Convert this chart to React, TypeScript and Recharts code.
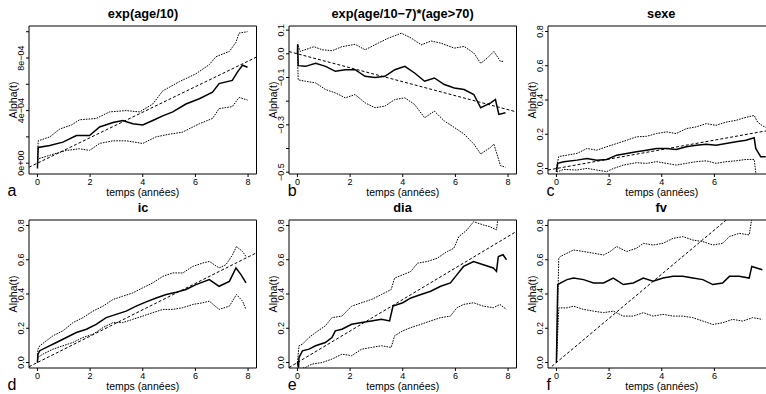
import { Line, LineChart, ReferenceArea, XAxis, YAxis } from "recharts";

type Pt = [number, number];

// temps (années) vs cumulative coefficient
const TITLES = ["exp(age/10)", "exp(age/10−7)*(age>70)", "sexe", "ic", "dia", "fv"];
const LETTERS = ["a", "b", "c", "d", "e", "f"];

const X_TICKS = [0, 2, 4, 6, 8];
// the right column is cut by the picture's edge before the "8" tick
const X_TICKS_CUT = [0, 2, 4, 6];

const aHigh: Pt[] = [[0, 0], [0.03, 0.00017], [0.47, 0.0002], [0.85, 0.00026], [1.29, 0.00029], [1.6, 0.00033], [2.23, 0.00034], [2.74, 0.00039], [3.37, 0.0004], [3.88, 0.00039], [4.38, 0.00045], [4.76, 0.00055], [5.39, 0.00062], [6.02, 0.00068], [6.53, 0.00075], [6.78, 0.00081], [7.29, 0.00085], [7.54, 0.00092], [7.66, 0.00099], [7.98, 0.001]];
const aEst: Pt[] = [[0, -0.00004], [0.03, 0.00012], [0.47, 0.000135], [0.97, 0.00016], [1.48, 0.00021], [1.98, 0.00021], [2.36, 0.000275], [2.87, 0.00031], [3.24, 0.000325], [3.62, 0.0003], [4.0, 0.00029], [4.38, 0.000325], [4.76, 0.00036], [5.14, 0.00039], [5.64, 0.00045], [6.15, 0.00049], [6.65, 0.00054], [6.9, 0.000605], [7.4, 0.00063], [7.6, 0.000695], [7.79, 0.000745], [7.98, 0.00073]];
const aLow: Pt[] = [[0, 0], [0.03, 0.000033], [0.47, 0.00006], [1.1, 0.000097], [1.6, 0.00011], [1.98, 0.000097], [2.36, 0.00015], [2.87, 0.00017], [3.37, 0.00017], [4.0, 0.00015], [4.5, 0.0002], [5.0, 0.00022], [5.5, 0.000235], [6.15, 0.0003], [6.65, 0.00034], [6.9, 0.000415], [7.4, 0.00043], [7.66, 0.0005], [7.98, 0.00048]];

const bHigh: Pt[] = [[0, 0], [0.01, 0.04], [0.1, 0.01], [0.63, 0.03], [0.94, 0.017], [1.32, 0.013], [1.69, 0.03], [2.19, 0.04], [2.57, 0.017], [3.07, 0.045], [3.45, 0.066], [3.95, 0.087], [4.33, 0.066], [4.7, 0.038], [5.08, 0.054], [5.45, 0.045], [5.96, 0.024], [6.33, 0.031], [6.7, 0.003], [6.96, -0.04], [7.21, -0.018], [7.46, 0.01], [7.71, -0.032], [7.84, -0.032]];
const bEst: Pt[] = [[0, 0], [0.01, 0.04], [0.03, -0.05], [0.31, -0.053], [0.69, -0.04], [1.07, -0.053], [1.44, -0.074], [1.82, -0.067], [2.19, -0.067], [2.57, -0.095], [2.95, -0.1], [3.32, -0.095], [3.7, -0.067], [4.08, -0.053], [4.45, -0.081], [4.83, -0.116], [5.2, -0.102], [5.58, -0.13], [5.96, -0.144], [6.33, -0.151], [6.7, -0.172], [6.96, -0.228], [7.34, -0.207], [7.52, -0.193], [7.65, -0.256], [7.9, -0.249]];
const bLow: Pt[] = [[0, 0], [0.03, -0.11], [0.31, -0.116], [0.69, -0.123], [1.07, -0.151], [1.44, -0.165], [1.82, -0.186], [2.19, -0.172], [2.57, -0.207], [2.95, -0.228], [3.32, -0.221], [3.7, -0.193], [4.08, -0.186], [4.45, -0.214], [4.83, -0.27], [5.2, -0.242], [5.58, -0.284], [5.96, -0.311], [6.33, -0.339], [6.7, -0.381], [6.96, -0.423], [7.34, -0.395], [7.46, -0.381], [7.71, -0.472], [7.9, -0.479]];

const cHigh: Pt[] = [[0, 0], [0.03, 0.03], [0.09, 0.07], [0.4, 0.078], [0.78, 0.088], [1.16, 0.117], [1.53, 0.107], [1.91, 0.127], [2.29, 0.146], [2.67, 0.165], [3.04, 0.185], [3.42, 0.188], [3.8, 0.204], [4.18, 0.214], [4.55, 0.204], [4.93, 0.233], [5.31, 0.243], [5.69, 0.262], [6.06, 0.252], [6.44, 0.271], [6.82, 0.281], [7.13, 0.296], [7.51, 0.31], [7.64, 0.271], [7.82, 0.25], [7.95, 0.24]];
const cEst: Pt[] = [[0, -0.02], [0.05, 0.03], [0.28, 0.04], [0.78, 0.049], [1.16, 0.059], [1.53, 0.049], [1.91, 0.053], [2.29, 0.078], [2.67, 0.088], [3.04, 0.098], [3.42, 0.107], [3.8, 0.117], [4.18, 0.117], [4.55, 0.111], [4.93, 0.127], [5.31, 0.136], [5.69, 0.142], [6.06, 0.136], [6.44, 0.146], [6.82, 0.156], [7.2, 0.165], [7.51, 0.18], [7.57, 0.117], [7.76, 0.068], [7.95, 0.068]];
const cLow: Pt[] = [[0, 0], [0.03, -0.02], [0.28, -0.005], [0.78, -0.009], [1.16, 0.001], [1.53, -0.009], [1.91, -0.018], [2.16, 0], [2.54, 0.02], [3.04, 0.034], [3.42, 0.03], [3.8, 0.04], [4.18, 0.03], [4.55, 0.02], [4.93, 0.03], [5.31, 0.04], [5.69, 0.045], [6.06, 0.03], [6.44, 0.04], [6.82, 0.045], [7.2, 0.053], [7.51, 0.053], [7.6, -0.06], [7.95, -0.1]];

const dHigh: Pt[] = [[0, 0.03], [0.02, 0.078], [0.09, 0.098], [0.34, 0.127], [0.59, 0.156], [0.97, 0.185], [1.35, 0.233], [1.73, 0.262], [2.11, 0.3], [2.49, 0.329], [2.87, 0.368], [3.24, 0.387], [3.62, 0.406], [4.0, 0.436], [4.38, 0.465], [4.76, 0.503], [5.14, 0.523], [5.52, 0.523], [5.9, 0.561], [6.28, 0.581], [6.53, 0.59], [6.9, 0.552], [7.16, 0.571], [7.41, 0.629], [7.56, 0.677], [7.79, 0.648], [7.92, 0.619]];
const dEst: Pt[] = [[0, 0], [0.02, 0.049], [0.09, 0.069], [0.34, 0.088], [0.72, 0.117], [1.1, 0.146], [1.48, 0.175], [1.86, 0.194], [2.23, 0.223], [2.61, 0.262], [2.99, 0.281], [3.37, 0.3], [3.75, 0.329], [4.13, 0.354], [4.51, 0.377], [4.89, 0.397], [5.27, 0.41], [5.64, 0.426], [6.02, 0.455], [6.53, 0.484], [6.9, 0.445], [7.29, 0.474], [7.54, 0.552], [7.73, 0.513], [7.92, 0.465]];
const dLow: Pt[] = [[0, 0], [0.02, 0.03], [0.21, 0.049], [0.59, 0.078], [0.97, 0.098], [1.35, 0.117], [1.73, 0.146], [2.11, 0.165], [2.49, 0.204], [2.87, 0.233], [3.24, 0.233], [3.62, 0.252], [4.0, 0.271], [4.38, 0.291], [4.76, 0.31], [5.14, 0.31], [5.52, 0.32], [5.9, 0.339], [6.28, 0.349], [6.53, 0.358], [6.9, 0.31], [7.29, 0.329], [7.56, 0.397], [7.79, 0.358], [7.92, 0.31]];

const eHigh: Pt[] = [[0, 0], [0.06, 0.098], [0.19, 0.107], [0.44, 0.146], [0.69, 0.175], [1.06, 0.214], [1.31, 0.262], [1.69, 0.271], [2.06, 0.329], [2.44, 0.349], [2.81, 0.368], [3.19, 0.397], [3.56, 0.426], [3.69, 0.493], [4.0, 0.512], [4.31, 0.532], [4.56, 0.58], [4.94, 0.59], [5.31, 0.609], [5.69, 0.648], [5.94, 0.667], [6.13, 0.735], [6.44, 0.774], [6.69, 0.822], [7.06, 0.803], [7.31, 0.793], [7.56, 0.774], [7.63, 0.86], [7.9, 0.86]];
const eEst: Pt[] = [[0, 0], [0.04, -0.03], [0.06, 0.03], [0.19, 0.068], [0.44, 0.078], [0.69, 0.098], [1.06, 0.117], [1.31, 0.146], [1.44, 0.185], [1.69, 0.194], [2.06, 0.223], [2.44, 0.233], [2.81, 0.243], [3.19, 0.252], [3.5, 0.243], [3.63, 0.329], [4.0, 0.349], [4.31, 0.377], [4.69, 0.397], [5.06, 0.416], [5.44, 0.445], [5.81, 0.465], [6.06, 0.513], [6.31, 0.561], [6.69, 0.59], [7.06, 0.571], [7.44, 0.552], [7.56, 0.532], [7.63, 0.619], [7.81, 0.629], [7.94, 0.6]];
const eLow: Pt[] = [[0, 0], [0.06, -0.04], [0.31, -0.028], [0.56, -0.009], [0.94, 0], [1.31, 0.02], [1.69, 0.049], [2.06, 0.04], [2.44, 0.078], [2.81, 0.088], [3.19, 0.098], [3.56, 0.088], [3.69, 0.156], [4.0, 0.185], [4.31, 0.204], [4.69, 0.223], [5.06, 0.243], [5.44, 0.262], [5.81, 0.271], [6.06, 0.32], [6.31, 0.339], [6.69, 0.349], [7.06, 0.329], [7.44, 0.32], [7.69, 0.339], [7.94, 0.31]];

const fHigh: Pt[] = [[0, 0], [0.09, 0.609], [0.15, 0.619], [0.4, 0.638], [0.65, 0.657], [1.03, 0.648], [1.41, 0.638], [1.79, 0.628], [2.04, 0.648], [2.29, 0.677], [2.67, 0.648], [3.04, 0.667], [3.3, 0.696], [3.67, 0.686], [4.05, 0.696], [4.43, 0.725], [4.8, 0.735], [5.18, 0.715], [5.56, 0.706], [5.94, 0.686], [6.31, 0.696], [6.57, 0.735], [6.94, 0.754], [7.32, 0.745], [7.42, 0.84], [7.9, 0.84]];
const fEst: Pt[] = [[0, 0], [0.05, 0.455], [0.15, 0.464], [0.4, 0.484], [0.65, 0.493], [1.03, 0.484], [1.41, 0.464], [1.79, 0.464], [2.16, 0.493], [2.54, 0.455], [2.92, 0.464], [3.3, 0.493], [3.67, 0.474], [4.05, 0.493], [4.43, 0.503], [4.8, 0.503], [5.18, 0.493], [5.56, 0.484], [5.94, 0.455], [6.31, 0.464], [6.57, 0.503], [6.94, 0.503], [7.32, 0.493], [7.42, 0.561], [7.82, 0.542]];
const fLow: Pt[] = [[0, 0], [0.09, 0.319], [0.4, 0.319], [0.65, 0.329], [1.03, 0.31], [1.41, 0.3], [1.79, 0.291], [2.16, 0.3], [2.54, 0.271], [2.92, 0.271], [3.3, 0.291], [3.67, 0.271], [4.05, 0.281], [4.43, 0.271], [4.8, 0.271], [5.18, 0.262], [5.56, 0.242], [5.94, 0.222], [6.31, 0.232], [6.69, 0.252], [7.07, 0.242], [7.45, 0.262], [7.82, 0.252]];

// slope of the dashed constant-effect line, per panel
const SLOPES = [0.000097, -0.0295, 0.0276, 0.077, 0.092, 0.129];

const A_Y_TICKS = [0, 0.0002, 0.0004, 0.0006, 0.0008, 0.001];
const A_Y_LABELS = ["0e+00", "", "4e−04", "", "8e−04", ""];
const B_Y_TICKS = [-0.5, -0.4, -0.3, -0.2, -0.1, 0, 0.1];
const B_Y_LABELS = ["−0.5", "", "−0.3", "", "−0.1", "0.0", "0.1"];
const P_Y_TICKS = [0, 0.2, 0.4, 0.6, 0.8];
const P_Y_LABELS = ["0.0", "0.2", "0.4", "0.6", "0.8"];

const X_DOMAIN: [number, number] = [-0.32, 8.32];
const BOX_LEFT = [29.3, 288.8, 547.5];
const ROW_TOP = [0, 194];
const Y_AXIS_W = 29;
const BOX_W = 227.5;
const CHART_W = Y_AXIS_W + BOX_W + 4;
const CHART_H = 200;
const FONT = '"Liberation Sans", Arial, Helvetica, sans-serif';

const tOf = (d: Pt) => d[0];
const vOf = (d: Pt) => d[1];

interface PanelSpec {
  idx: number;
  est: Pt[];
  low: Pt[];
  high: Pt[];
  yDomain: [number, number];
  yTicks: number[];
  yLabels: string[];
}

const PANELS: PanelSpec[] = [
  { idx: 0, est: aEst, low: aLow, high: aHigh, yDomain: [-0.0000824, 0.0010435], yTicks: A_Y_TICKS, yLabels: A_Y_LABELS },
  { idx: 1, est: bEst, low: bLow, high: bHigh, yDomain: [-0.5076, 0.1174], yTicks: B_Y_TICKS, yLabels: B_Y_LABELS },
  { idx: 2, est: cEst, low: cLow, high: cHigh, yDomain: [-0.032, 0.832], yTicks: P_Y_TICKS, yLabels: P_Y_LABELS },
  { idx: 3, est: dEst, low: dLow, high: dHigh, yDomain: [-0.032, 0.832], yTicks: P_Y_TICKS, yLabels: P_Y_LABELS },
  { idx: 4, est: eEst, low: eLow, high: eHigh, yDomain: [-0.032, 0.832], yTicks: P_Y_TICKS, yLabels: P_Y_LABELS },
  { idx: 5, est: fEst, low: fLow, high: fHigh, yDomain: [-0.032, 0.832], yTicks: P_Y_TICKS, yLabels: P_Y_LABELS },
];

// R draws y tick labels parallel to the axis
function YTick(props: any) {
  const { x, y, index, labels } = props;
  const text = labels[index];
  if (!text) return null;
  return (
    <text x={x} y={y} transform={`rotate(-90 ${x} ${y})`} textAnchor="middle" fontSize={9} fill="#000">
      {text}
    </text>
  );
}

function Panel({ p }: { p: PanelSpec }) {
  const col = p.idx % 3;
  const row = Math.floor(p.idx / 3);
  const boxLeft = BOX_LEFT[col];
  const top = ROW_TOP[row];
  const slope = SLOPES[p.idx];
  const refLine: Pt[] = X_DOMAIN.map((t) => [t, slope * t] as Pt);
  const letterLeft = col === 0 ? 7.5 : boxLeft - 1;

  return (
    <>
      <div style={{ position: "absolute", left: boxLeft - Y_AXIS_W, top, width: CHART_W, height: CHART_H }}>
        <LineChart width={CHART_W} height={CHART_H} margin={{ top: 26, right: 4, bottom: 0, left: 0 }}>
          <XAxis
            type="number"
            dataKey={tOf}
            domain={X_DOMAIN}
            ticks={col === 2 ? X_TICKS_CUT : X_TICKS}
            interval={0}
            allowDataOverflow
            axisLine={false}
            tickSize={3}
            tickMargin={2}
            height={26}
            tickLine={{ stroke: "#000" }}
            tick={{ fontSize: 9, fill: "#000" }}
            label={{ value: "temps (années)", position: "insideBottom", offset: 4, fontSize: 10.5, fill: "#000" }}
          />
          <YAxis
            type="number"
            domain={p.yDomain}
            ticks={p.yTicks}
            interval={0}
            allowDataOverflow
            axisLine={false}
            width={Y_AXIS_W}
            tickSize={3}
            tickMargin={2}
            tickLine={{ stroke: "#000" }}
            tick={<YTick labels={p.yLabels} />}
            label={{
              value: "Alpha(t)",
              angle: -90,
              position: "insideLeft",
              offset: 13.5,
              fontSize: 10.5,
              fill: "#000",
              style: { textAnchor: "middle" },
            }}
          />
          <ReferenceArea
            x1={X_DOMAIN[0]}
            x2={X_DOMAIN[1]}
            y1={p.yDomain[0]}
            y2={p.yDomain[1]}
            fill="none"
            fillOpacity={0}
            stroke="#000"
            strokeWidth={1}
            ifOverflow="visible"
          />
          <Line data={refLine} dataKey={vOf} type="linear" stroke="#000" strokeWidth={1} strokeDasharray="3 2" dot={false} activeDot={false} isAnimationActive={false} />
          <Line data={p.high} dataKey={vOf} type="linear" stroke="#000" strokeWidth={1} strokeDasharray="1.6 1.1" dot={false} activeDot={false} isAnimationActive={false} />
          <Line data={p.low} dataKey={vOf} type="linear" stroke="#000" strokeWidth={1} strokeDasharray="1.6 1.1" dot={false} activeDot={false} isAnimationActive={false} />
          <Line data={p.est} dataKey={vOf} type="linear" stroke="#000" strokeWidth={1.5} dot={false} activeDot={false} isAnimationActive={false} />
        </LineChart>
      </div>
      <div
        style={{
          position: "absolute",
          left: boxLeft,
          top: top + 7.5,
          width: BOX_W,
          textAlign: "center",
          fontWeight: "bold",
          fontSize: 12.8,
          lineHeight: "12.8px",
          whiteSpace: "nowrap",
        }}
      >
        {TITLES[p.idx]}
      </div>
      <div style={{ position: "absolute", left: letterLeft, top: top + 185.1, fontSize: 16, lineHeight: "12px" }}>
        {LETTERS[p.idx]}
      </div>
    </>
  );
}

export default function App() {
  return (
    <div
      style={{
        position: "absolute",
        left: 0,
        top: 0,
        width: 766,
        height: 394,
        overflow: "hidden",
        background: "#fff",
        color: "#000",
        fontFamily: FONT,
      }}
    >
      {PANELS.map((p) => (
        <Panel key={p.idx} p={p} />
      ))}
    </div>
  );
}
